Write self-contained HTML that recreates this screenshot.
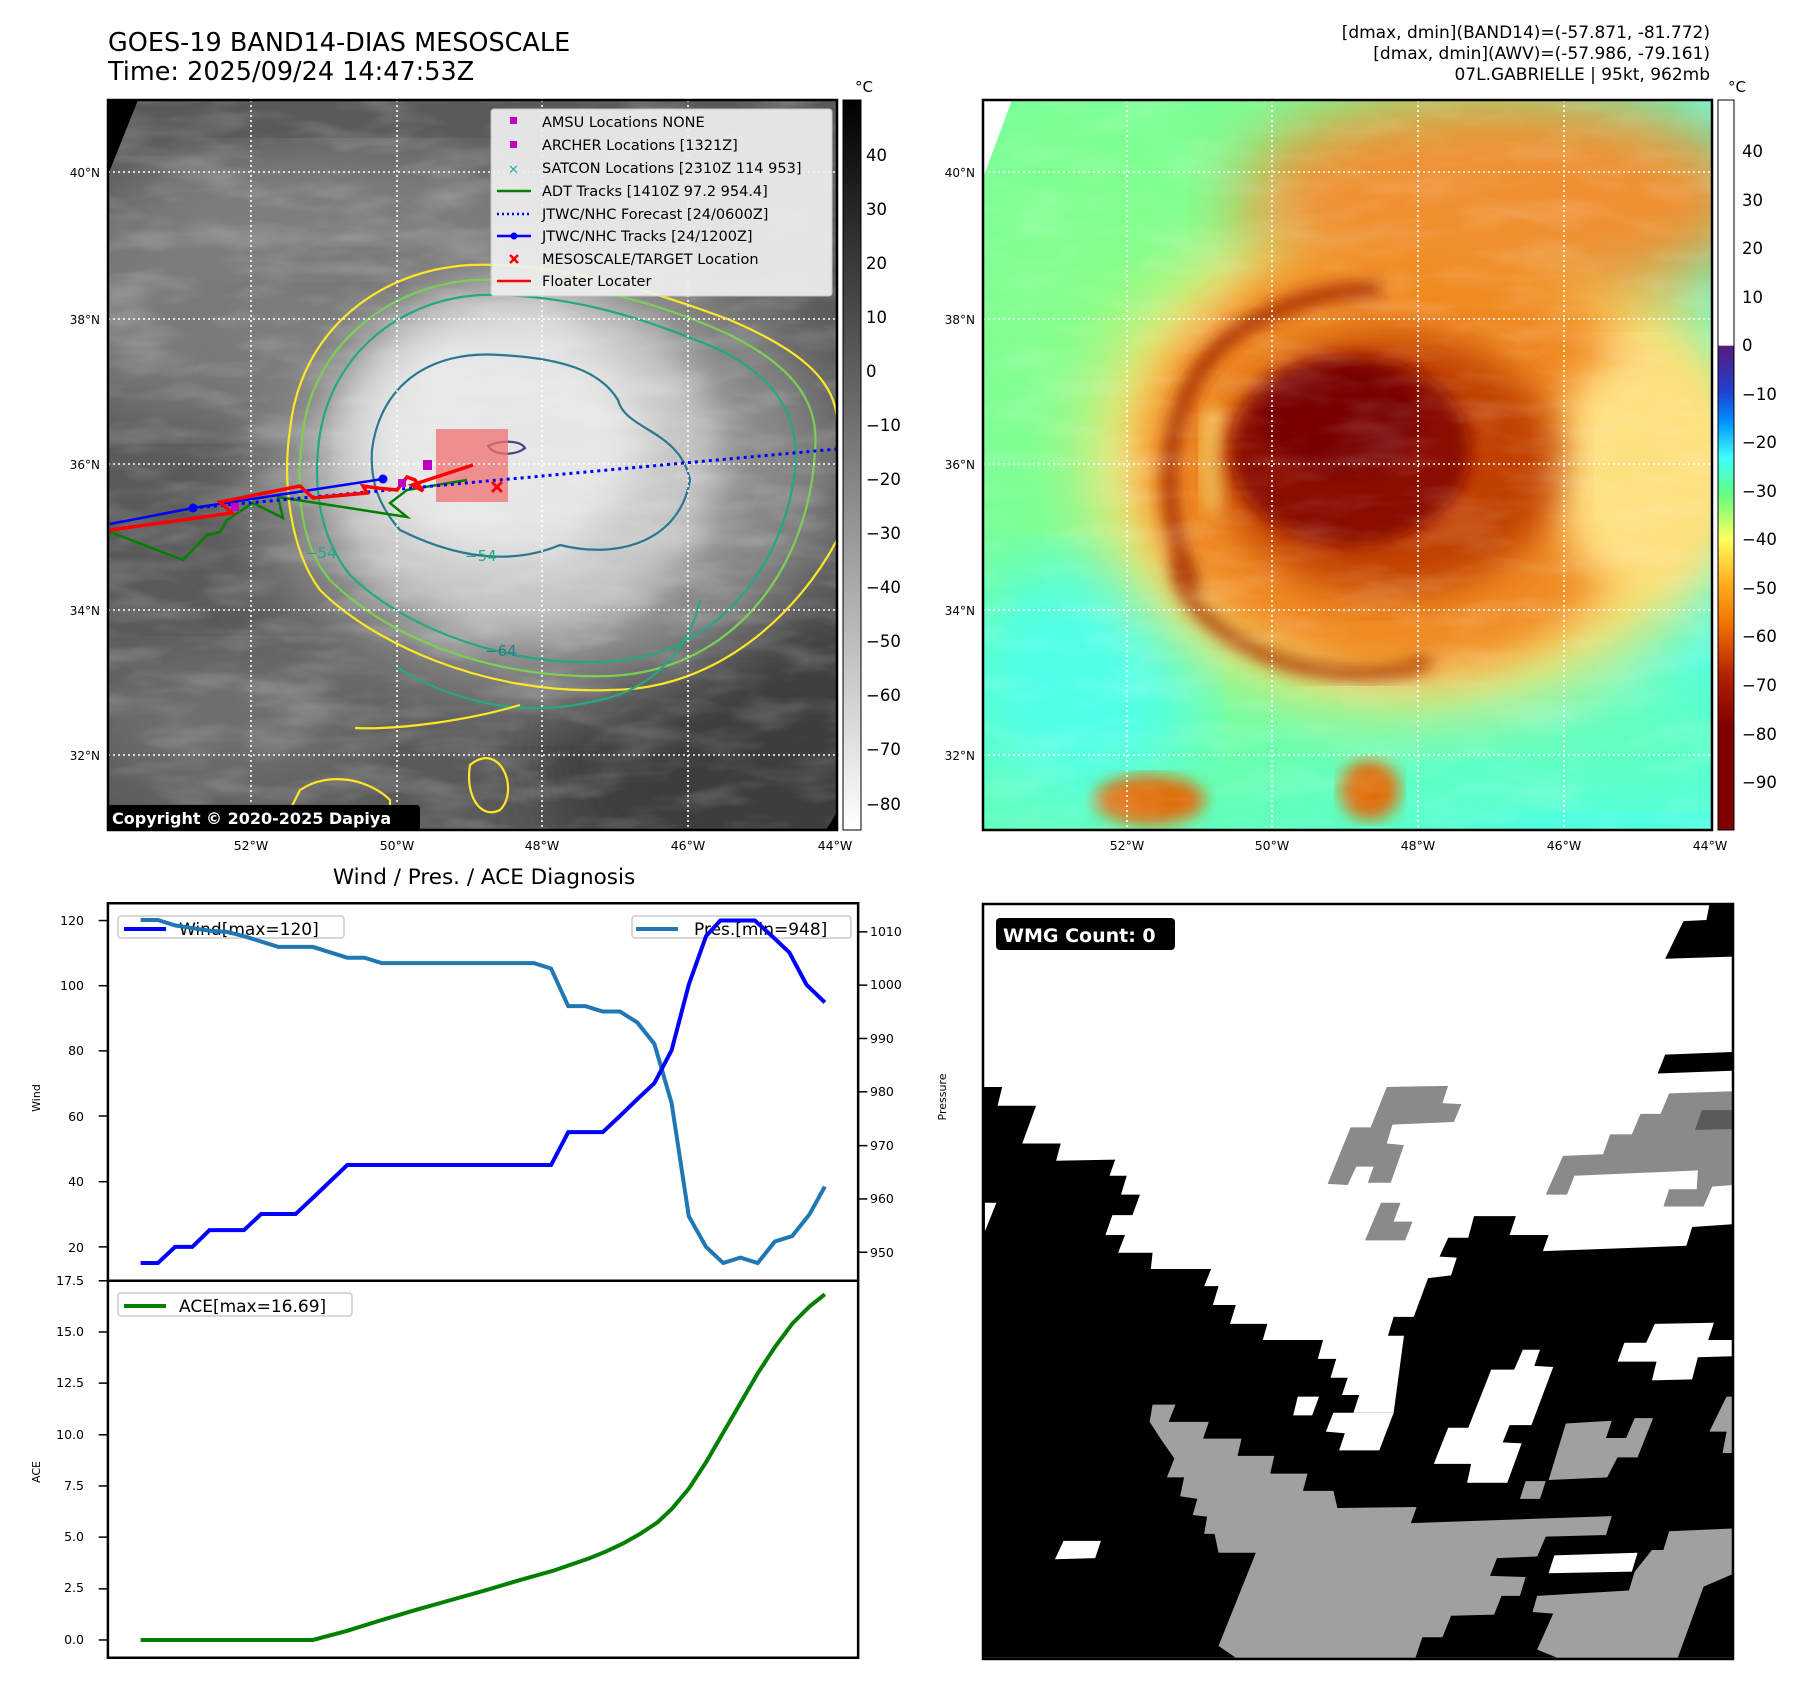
<!DOCTYPE html>
<html><head><meta charset="utf-8">
<style>
html,body{margin:0;padding:0;background:#fff;}
svg{display:block;font-family:"DejaVu Sans","Liberation Sans",sans-serif;}
</style></head>
<body>
<svg width="1801" height="1690" viewBox="0 0 1801 1690" xmlns="http://www.w3.org/2000/svg">
<defs>
<clipPath id="c1"><rect x="108" y="100" width="729" height="730"/></clipPath>
<clipPath id="c2"><rect x="983" y="100" width="729" height="730"/></clipPath>
<filter id="b8"><feGaussianBlur stdDeviation="8"/></filter>
<filter id="b20"><feGaussianBlur stdDeviation="20"/></filter>
<filter id="b35"><feGaussianBlur stdDeviation="35"/></filter>
<filter id="tex" x="0" y="0" width="100%" height="100%">
<feTurbulence type="fractalNoise" baseFrequency="0.012 0.04" numOctaves="3" seed="4"/>
<feColorMatrix type="matrix" values="0 0 0 0 1  0 0 0 0 1  0 0 0 0 1  0 0 0 1.3 -0.55"/>
</filter>
<linearGradient id="cb1" x1="0" y1="0" x2="0" y2="1"><stop offset="0" stop-color="#000"/><stop offset="1" stop-color="#fff"/></linearGradient>
<linearGradient id="cb2" x1="0" y1="0" x2="0" y2="1">
<stop offset="0" stop-color="#fff"/><stop offset="0.336" stop-color="#fff"/>
<stop offset="0.337" stop-color="#5a1a7a"/><stop offset="0.40" stop-color="#2040d0"/>
<stop offset="0.44" stop-color="#0090ff"/><stop offset="0.49" stop-color="#40ffff"/>
<stop offset="0.54" stop-color="#60ff80"/><stop offset="0.60" stop-color="#ffff60"/>
<stop offset="0.66" stop-color="#ffb020"/><stop offset="0.72" stop-color="#f07000"/>
<stop offset="0.79" stop-color="#b02000"/><stop offset="0.86" stop-color="#800000"/><stop offset="1" stop-color="#800000"/>
</linearGradient>
<radialGradient id="g2bg" cx="0.2" cy="0.3" r="0.9"><stop offset="0" stop-color="#88ff88"/><stop offset="0.6" stop-color="#70ffa0"/><stop offset="1" stop-color="#50ffe0"/></radialGradient>
</defs>

<!-- Titles -->
<text x="108" y="51" font-size="25.5">GOES-19 BAND14-DIAS MESOSCALE</text>
<text x="108" y="80" font-size="25.5">Time: 2025/09/24 14:47:53Z</text>
<g font-size="17" text-anchor="end">
<text x="1710" y="38">[dmax, dmin](BAND14)=(-57.871, -81.772)</text>
<text x="1710" y="59">[dmax, dmin](AWV)=(-57.986, -79.161)</text>
<text x="1710" y="80">07L.GABRIELLE | 95kt, 962mb</text>
</g>

<!-- MAP 1 -->
<g clip-path="url(#c1)">
<rect x="108" y="100" width="729" height="730" fill="#5a5a5a"/>
<ellipse cx="760" cy="760" rx="220" ry="160" fill="#3c3c3c" filter="url(#b35)"/>
<ellipse cx="200" cy="300" rx="160" ry="120" fill="#7a7a7a" filter="url(#b35)"/>
<ellipse cx="350" cy="210" rx="200" ry="60" fill="#808080" filter="url(#b35)"/>
<ellipse cx="230" cy="720" rx="140" ry="70" fill="#707070" filter="url(#b35)"/>
<ellipse cx="540" cy="470" rx="290" ry="230" fill="#8a8a8a" filter="url(#b35)"/>
<ellipse cx="520" cy="460" rx="200" ry="175" fill="#c8c8c8" filter="url(#b20)"/>
<ellipse cx="500" cy="440" rx="140" ry="120" fill="#e6e6e6" filter="url(#b20)"/>
<rect x="108" y="100" width="729" height="730" filter="url(#tex)" opacity="0.35"/>
<polygon points="108,100 138,100 108,175" fill="#000"/>
<polygon points="837,812 837,830 826,830" fill="#000"/>
<!-- contours -->
<g fill="none" stroke-width="2.2">
<path d="M837,540 C800,610 720,690 610,690 C480,695 370,640 320,590 C290,550 282,480 290,430 C300,330 380,270 470,265 C560,262 650,290 730,320 C800,350 835,380 837,420" stroke="#fde725"/>
<path d="M302,440 C310,345 390,285 475,280 C565,278 655,300 730,335 C790,365 820,400 815,450 C810,560 740,670 610,676 C480,680 380,630 330,580 C300,545 296,490 302,440Z" stroke="#7ad151"/>
<path d="M318,450 C325,360 395,300 480,295 C570,293 650,320 720,350 C780,380 800,420 795,470 C785,560 720,660 600,662 C490,665 395,620 350,575 C322,540 314,495 318,450Z" stroke="#22a884"/>
<path d="M372,450 C380,385 430,350 500,355 C560,358 600,370 618,400 C625,430 680,430 690,480 C680,540 620,560 560,545 C500,570 440,550 400,530 C378,505 370,480 372,450Z" stroke="#2a788e"/>
<path d="M398,668 C450,700 520,720 600,700 C650,690 690,650 700,600" stroke="#22a884"/>
<path d="M355,728 C400,730 470,720 520,705" stroke="#fde725"/>
<path d="M470,765 C500,740 520,790 500,810 C480,820 465,795 470,765Z" stroke="#fde725"/>
<path d="M300,790 C330,770 370,780 390,800 L390,830 L280,830Z" stroke="#fde725"/>
<path d="M488,446 C500,440 520,440 525,448 C515,456 495,456 488,446Z" stroke="#414487"/>
</g>
<rect x="436" y="429" width="72" height="73" fill="#f07070" opacity="0.75"/>
<!-- gridlines -->
<g stroke="#fff" stroke-width="1.6" stroke-dasharray="2,3">
<line x1="251" y1="100" x2="251" y2="830"/><line x1="397" y1="100" x2="397" y2="830"/><line x1="542" y1="100" x2="542" y2="830"/><line x1="688" y1="100" x2="688" y2="830"/>
<line x1="108" y1="172" x2="837" y2="172"/><line x1="108" y1="319" x2="837" y2="319"/><line x1="108" y1="464" x2="837" y2="464"/><line x1="108" y1="610" x2="837" y2="610"/><line x1="108" y1="755" x2="837" y2="755"/>
</g>
<!-- tracks -->
<polyline points="110,532 183,560 207,535 220,532 227,520 253,503 283,518 278,497 407,517 390,503 407,490 467,480" fill="none" stroke="#008000" stroke-width="2.5"/>
<line x1="193" y1="508" x2="837" y2="449" stroke="#0000ff" stroke-width="3" stroke-dasharray="3,4"/>
<polyline points="110,524 193,508 383,479" fill="none" stroke="#0000ff" stroke-width="2.5"/>
<circle cx="193" cy="508" r="4.5" fill="#0000ff"/><circle cx="383" cy="479" r="4.5" fill="#0000ff"/>
<polyline points="110,530 232,513 220,502 300,486 313,498 367,493 363,486 377,488 397,490 407,477 415,480 423,491 412,485 473,465" fill="none" stroke="#ff0000" stroke-width="3.5"/>
<rect x="423" y="460" width="9" height="10" fill="#c000c0"/><rect x="398" y="479" width="8" height="8" fill="#c000c0"/><rect x="231" y="503" width="8" height="8" fill="#c000c0"/>
<g stroke="#ff0000" stroke-width="3"><line x1="492" y1="482" x2="502" y2="492"/><line x1="502" y1="482" x2="492" y2="492"/></g>
<text x="305" y="558" font-size="15" fill="#22a884">−54</text>
<text x="465" y="561" font-size="15" fill="#22a884">−54</text>
<text x="485" y="656" font-size="15" fill="#2a788e">−64</text>
</g>
<rect x="108" y="100" width="729" height="730" fill="none" stroke="#000" stroke-width="2.5"/>
<!-- legend -->
<rect x="491" y="109" width="341" height="187" rx="3" fill="#f0f0f0" opacity="0.92" stroke="#ccc"/>
<g font-size="14.5" fill="#000">
<rect x="510" y="117" width="7" height="7" fill="#c000c0"/><text x="542" y="127">AMSU Locations NONE</text>
<rect x="510" y="141" width="7" height="7" fill="#c000c0"/><text x="542" y="150">ARCHER Locations [1321Z]</text>
<text x="508" y="174" fill="#20b0b0" font-size="13">✕</text><text x="542" y="173">SATCON Locations [2310Z 114 953]</text>
<line x1="497" y1="191" x2="531" y2="191" stroke="#008000" stroke-width="2.5"/><text x="542" y="196">ADT Tracks [1410Z 97.2 954.4]</text>
<line x1="497" y1="214" x2="531" y2="214" stroke="#0000ff" stroke-width="2.5" stroke-dasharray="2,3"/><text x="542" y="219">JTWC/NHC Forecast [24/0600Z]</text>
<line x1="497" y1="236" x2="531" y2="236" stroke="#0000ff" stroke-width="2.5"/><circle cx="514" cy="236" r="3.5" fill="#0000ff"/><text x="542" y="241">JTWC/NHC Tracks [24/1200Z]</text>
<g stroke="#ff0000" stroke-width="2.5"><line x1="510" y1="255" x2="518" y2="263"/><line x1="518" y1="255" x2="510" y2="263"/></g><text x="542" y="264">MESOSCALE/TARGET Location</text>
<line x1="497" y1="281" x2="531" y2="281" stroke="#ff0000" stroke-width="2.5"/><text x="542" y="286">Floater Locater</text>
</g>
<rect x="108" y="805" width="312" height="25" rx="3" fill="#000"/>
<text x="112" y="824" font-size="16" font-weight="bold" fill="#fff">Copyright © 2020-2025 Dapiya</text>
<!-- map1 axes labels -->
<g font-size="12" text-anchor="end"><text x="100" y="177">40°N</text><text x="100" y="324">38°N</text><text x="100" y="469">36°N</text><text x="100" y="615">34°N</text><text x="100" y="760">32°N</text></g>
<g font-size="12.5" text-anchor="middle"><text x="251" y="850">52°W</text><text x="397" y="850">50°W</text><text x="542" y="850">48°W</text><text x="688" y="850">46°W</text><text x="835" y="850">44°W</text></g>
<!-- colorbar1 -->
<rect x="843" y="100" width="18" height="730" fill="url(#cb1)" stroke="#000" stroke-width="1"/>
<text x="855" y="92" font-size="15">°C</text>
<g font-size="16.5"><text x="866" y="161">40</text><text x="866" y="215">30</text><text x="866" y="269">20</text><text x="866" y="323">10</text><text x="866" y="377">0</text><text x="866" y="431">−10</text><text x="866" y="485">−20</text><text x="866" y="539">−30</text><text x="866" y="593">−40</text><text x="866" y="647">−50</text><text x="866" y="701">−60</text><text x="866" y="755">−70</text><text x="866" y="810">−80</text></g>

<!-- MAP 2 -->
<g clip-path="url(#c2)">
<rect x="983" y="100" width="729" height="730" fill="url(#g2bg)"/>
<ellipse cx="1080" cy="680" rx="120" ry="120" fill="#50ffe8" filter="url(#b35)"/>
<ellipse cx="1600" cy="740" rx="150" ry="60" fill="#60ffc0" filter="url(#b35)"/>
<ellipse cx="1420" cy="460" rx="330" ry="250" fill="#ffe070" filter="url(#b35)"/>
<ellipse cx="1500" cy="200" rx="260" ry="110" fill="#f09030" filter="url(#b35)"/>
<ellipse cx="1400" cy="460" rx="260" ry="215" fill="#f08a20" filter="url(#b20)"/>
<ellipse cx="1640" cy="470" rx="90" ry="120" fill="#ffe080" filter="url(#b20)"/>
<path d="M1195,590 C1150,500 1165,380 1240,330 C1290,300 1330,290 1380,290" fill="none" stroke="#a02800" stroke-width="14" filter="url(#b8)"/>
<path d="M1180,560 C1170,600 1240,660 1320,670 C1380,680 1410,670 1430,660" fill="none" stroke="#a83000" stroke-width="12" filter="url(#b8)"/>
<ellipse cx="1215" cy="460" rx="14" ry="55" fill="#ffe070" filter="url(#b8)"/>
<ellipse cx="1390" cy="465" rx="170" ry="130" fill="#c04000" filter="url(#b20)"/>
<ellipse cx="1350" cy="450" rx="120" ry="95" fill="#8a0800" filter="url(#b8)"/>
<ellipse cx="1340" cy="420" rx="80" ry="55" fill="#780000" filter="url(#b8)"/>
<ellipse cx="1150" cy="800" rx="55" ry="25" fill="#e07010" filter="url(#b8)"/>
<ellipse cx="1370" cy="790" rx="30" ry="30" fill="#e07010" filter="url(#b8)"/>
<rect x="983" y="100" width="729" height="730" filter="url(#tex)" opacity="0.25"/>
<polygon points="983,100 1012,100 983,178" fill="#fff"/>
<g stroke="#fff" stroke-width="1.6" stroke-dasharray="2,3">
<line x1="1127" y1="100" x2="1127" y2="830"/><line x1="1272" y1="100" x2="1272" y2="830"/><line x1="1418" y1="100" x2="1418" y2="830"/><line x1="1564" y1="100" x2="1564" y2="830"/>
<line x1="983" y1="172" x2="1712" y2="172"/><line x1="983" y1="319" x2="1712" y2="319"/><line x1="983" y1="464" x2="1712" y2="464"/><line x1="983" y1="610" x2="1712" y2="610"/><line x1="983" y1="755" x2="1712" y2="755"/>
</g>
</g>
<rect x="983" y="100" width="729" height="730" fill="none" stroke="#000" stroke-width="2.5"/>
<g font-size="12" text-anchor="end"><text x="975" y="177">40°N</text><text x="975" y="324">38°N</text><text x="975" y="469">36°N</text><text x="975" y="615">34°N</text><text x="975" y="760">32°N</text></g>
<g font-size="12.5" text-anchor="middle"><text x="1127" y="850">52°W</text><text x="1272" y="850">50°W</text><text x="1418" y="850">48°W</text><text x="1564" y="850">46°W</text><text x="1710" y="850">44°W</text></g>
<rect x="1718" y="100" width="16" height="730" fill="url(#cb2)" stroke="#000" stroke-width="1"/>
<text x="1728" y="92" font-size="15">°C</text>
<g font-size="16.5"><text x="1742" y="157">40</text><text x="1742" y="206">30</text><text x="1742" y="254">20</text><text x="1742" y="303">10</text><text x="1742" y="351">0</text><text x="1742" y="400">−10</text><text x="1742" y="448">−20</text><text x="1742" y="497">−30</text><text x="1742" y="545">−40</text><text x="1742" y="594">−50</text><text x="1742" y="642">−60</text><text x="1742" y="691">−70</text><text x="1742" y="740">−80</text><text x="1742" y="788">−90</text></g>

<!-- Wind / Pres / ACE -->
<text x="484" y="884" font-size="21.5" text-anchor="middle">Wind / Pres. / ACE Diagnosis</text>
<!-- legends (drawn beneath lines) -->
<rect x="118" y="916" width="226" height="22" rx="3" fill="#fff" fill-opacity="0.8" stroke="#ccc" stroke-width="1.5"/>
<line x1="124" y1="929" x2="166" y2="929" stroke="#0000ff" stroke-width="4"/>
<text x="179" y="935" font-size="17">Wind[max=120]</text>
<rect x="632" y="916" width="219" height="22" rx="3" fill="#fff" fill-opacity="0.8" stroke="#ccc" stroke-width="1.5"/>
<line x1="636" y1="929" x2="678" y2="929" stroke="#1f77b4" stroke-width="4"/>
<text x="694" y="935" font-size="17">Pres.[min=948]</text>
<rect x="118" y="1293" width="234" height="23" rx="3" fill="#fff" stroke="#ccc" stroke-width="1.5"/>
<line x1="124" y1="1306" x2="166" y2="1306" stroke="#008000" stroke-width="4"/>
<text x="179" y="1312" font-size="17">ACE[max=16.69]</text>
<g transform="translate(0,850) scale(0.574,0.5385)" fill="none">
<polyline vector-effect="non-scaling-stroke" stroke="#1f77b4" stroke-width="4" points="245,130 275,130 305,140 335,145 365,150 395,152 425,160 455,170 485,180 545,180 575,190 605,200 635,200 665,210 930,210 960,220 990,290 1020,290 1050,300 1080,300 1110,320 1140,360 1170,470 1200,680 1230,737 1260,767 1290,757 1320,767 1350,727 1380,717 1410,677 1437,625"/>
<polyline vector-effect="non-scaling-stroke" stroke="#0000ff" stroke-width="4" points="245,767 275,767 305,737 335,737 365,706 425,706 455,676 515,676 545,646 605,585 960,585 990,524 1050,524 1080,494 1110,463 1140,433 1170,372 1200,250 1230,160 1255,131 1315,131 1345,160 1375,190 1405,250 1437,283"/>
<polyline vector-effect="non-scaling-stroke" stroke="#008000" stroke-width="4" points="245,1467 545,1467 605,1450 665,1430 725,1411 785,1393 845,1375 905,1356 965,1338 1025,1316 1055,1303 1085,1288 1115,1270 1145,1249 1170,1224 1200,1186 1230,1137 1260,1082 1290,1027 1320,972 1350,923 1380,880 1410,848 1437,825"/>
<rect x="188" y="99" width="1307" height="1401" stroke="#000" stroke-width="2.5" vector-effect="non-scaling-stroke"/>
<line x1="188" y1="800" x2="1495" y2="800" stroke="#000" stroke-width="2.5" vector-effect="non-scaling-stroke"/>
<g stroke="#000" stroke-width="1.5">
<line x1="172" y1="131" x2="188" y2="131" vector-effect="non-scaling-stroke"/><line x1="172" y1="252" x2="188" y2="252" vector-effect="non-scaling-stroke"/><line x1="172" y1="373" x2="188" y2="373" vector-effect="non-scaling-stroke"/><line x1="172" y1="494" x2="188" y2="494" vector-effect="non-scaling-stroke"/><line x1="172" y1="616" x2="188" y2="616" vector-effect="non-scaling-stroke"/><line x1="172" y1="737" x2="188" y2="737" vector-effect="non-scaling-stroke"/>
<line x1="1495" y1="152" x2="1511" y2="152" vector-effect="non-scaling-stroke"/><line x1="1495" y1="251" x2="1511" y2="251" vector-effect="non-scaling-stroke"/><line x1="1495" y1="350" x2="1511" y2="350" vector-effect="non-scaling-stroke"/><line x1="1495" y1="449" x2="1511" y2="449" vector-effect="non-scaling-stroke"/><line x1="1495" y1="549" x2="1511" y2="549" vector-effect="non-scaling-stroke"/><line x1="1495" y1="648" x2="1511" y2="648" vector-effect="non-scaling-stroke"/><line x1="1495" y1="747" x2="1511" y2="747" vector-effect="non-scaling-stroke"/>
<line x1="172" y1="800" x2="188" y2="800" vector-effect="non-scaling-stroke"/><line x1="172" y1="895" x2="188" y2="895" vector-effect="non-scaling-stroke"/><line x1="172" y1="990" x2="188" y2="990" vector-effect="non-scaling-stroke"/><line x1="172" y1="1086" x2="188" y2="1086" vector-effect="non-scaling-stroke"/><line x1="172" y1="1181" x2="188" y2="1181" vector-effect="non-scaling-stroke"/><line x1="172" y1="1276" x2="188" y2="1276" vector-effect="non-scaling-stroke"/><line x1="172" y1="1372" x2="188" y2="1372" vector-effect="non-scaling-stroke"/><line x1="172" y1="1467" x2="188" y2="1467" vector-effect="non-scaling-stroke"/>
</g>
</g>
<g font-size="12.5" text-anchor="end">
<text x="84" y="925">120</text><text x="84" y="990">100</text><text x="84" y="1055">80</text><text x="84" y="1121">60</text><text x="84" y="1186">40</text><text x="84" y="1252">20</text>
<text x="84" y="1285">17.5</text><text x="84" y="1336">15.0</text><text x="84" y="1387">12.5</text><text x="84" y="1439">10.0</text><text x="84" y="1490">7.5</text><text x="84" y="1541">5.0</text><text x="84" y="1592">2.5</text><text x="84" y="1644">0.0</text>
</g>
<g font-size="12.5">
<text x="870" y="936">1010</text><text x="870" y="989">1000</text><text x="870" y="1043">990</text><text x="870" y="1096">980</text><text x="870" y="1150">970</text><text x="870" y="1203">960</text><text x="870" y="1257">950</text>
</g>
<text transform="translate(40,1098) rotate(-90)" font-size="11" text-anchor="middle">Wind</text>
<text transform="translate(40,1472) rotate(-90)" font-size="11" text-anchor="middle">ACE</text>
<text transform="translate(946,1097) rotate(-90)" font-size="11" text-anchor="middle">Pressure</text>

<!-- WMG panel -->
<g transform="translate(900,850) scale(0.574,0.5385)">
<rect x="145" y="100" width="1305" height="1400" fill="#fff"/>
<polygon fill="#000" points="145,440 178,440 170,475 237,475 213,545 280,545 272,577 375,575 365,605 395,605 385,640 418,640 405,678 370,678 358,715 392,715 380,748 440,748 437,778 542,778 530,810 555,810 545,845 585,845 575,880 640,880 632,910 737,910 728,945 760,945 750,980 780,980 770,1012 800,1012 790,1045 860,1045 878,902 850,902 860,867 895,867 920,795 960,790 970,757 940,755 955,720 990,720 1000,680 1073,680 1062,715 1130,715 1120,745 1370,735 1380,700 1450,695 1450,1500 145,1500"/>
<polygon fill="#fff" points="148,655 168,655 148,708"/>
<polygon fill="#a0a0a0" points="440,1030 480,1030 468,1062 538,1062 528,1093 595,1093 588,1125 652,1125 645,1158 710,1158 702,1190 755,1190 762,1222 900,1220 890,1250 1240,1237 1230,1272 1125,1275 1110,1312 1040,1315 1028,1348 1090,1350 1080,1385 1048,1385 1035,1420 960,1422 945,1462 910,1462 898,1500 585,1500 555,1478 620,1305 555,1305 548,1270 530,1270 535,1238 510,1235 518,1205 488,1200 495,1165 465,1165 478,1130 455,1095 435,1062"/>
<polygon fill="#a0a0a0" points="1110,1385 1270,1375 1280,1340 1310,1300 1330,1300 1340,1265 1450,1260 1450,1345 1400,1368 1355,1500 1145,1500 1110,1485 1138,1418 1102,1415"/>
<polygon fill="#a0a0a0" points="1160,1065 1240,1060 1230,1092 1265,1092 1280,1055 1312,1055 1285,1128 1250,1128 1232,1165 1130,1170"/>
<polygon fill="#a0a0a0" points="1090,1172 1125,1172 1115,1205 1080,1205"/>
<polygon fill="#a0a0a0" points="1440,1015 1450,1015 1450,1120 1433,1120 1440,1080 1410,1080"/>
<polygon fill="#fff" points="693,1015 730,1015 718,1050 685,1050"/>
<polygon fill="#fff" points="1085,928 1115,928 1105,958 1138,960 1100,1068 1062,1068 1050,1100 1083,1102 1058,1175 988,1175 995,1140 930,1140 955,1073 990,1073 1030,965 1070,965"/>
<polygon fill="#fff" points="755,1045 860,1045 835,1115 765,1115 775,1083 742,1080"/>
<polygon fill="#fff" points="1315,880 1418,878 1408,910 1450,910 1450,940 1390,942 1380,983 1310,985 1318,950 1250,950 1262,915 1300,915"/>
<polygon fill="#fff" points="285,1283 350,1283 340,1315 270,1317"/>
<polygon fill="#fff" points="1140,1310 1285,1305 1275,1340 1130,1343"/>
<polygon fill="#8a8a8a" points="848,440 955,438 945,470 978,472 965,505 858,510 848,545 878,548 855,618 815,618 825,588 795,588 780,622 745,620 785,515 820,515"/>
<polygon fill="#8a8a8a" points="838,655 872,655 860,690 893,690 880,725 810,725"/>
<polygon fill="#8a8a8a" points="1340,452 1450,448 1450,622 1415,625 1400,662 1330,662 1340,630 1388,630 1390,595 1175,605 1162,640 1125,640 1155,568 1225,565 1237,528 1275,528 1290,490 1325,490"/>
<polygon fill="#5a5a5a" points="1397,483 1450,483 1450,518 1385,520"/>
<polygon fill="#000" points="1365,132 1405,130 1410,102 1450,100 1450,198 1333,202"/>
<polygon fill="#000" points="1333,380 1450,375 1450,410 1320,415"/>
</g>
<rect x="983" y="904" width="750" height="755" fill="none" stroke="#000" stroke-width="2.5"/>
<rect x="996" y="918" width="179" height="32" rx="4" fill="#000"/>
<text x="1003" y="942" font-size="19" font-weight="bold" fill="#fff">WMG Count: 0</text>
</svg>
</body></html>
